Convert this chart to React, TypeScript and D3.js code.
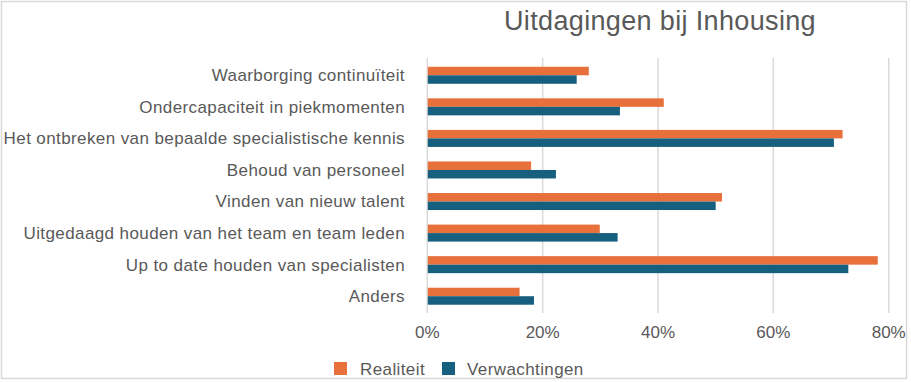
import React from "react";
import * as d3 from "d3";

const categories = [
  "Waarborging continuïteit",
  "Ondercapaciteit in piekmomenten",
  "Het ontbreken van bepaalde specialistische kennis",
  "Behoud van personeel",
  "Vinden van nieuw talent",
  "Uitgedaagd houden van het team en team leden",
  "Up to date houden van specialisten",
  "Anders",
];
const realiteit = [0.28, 0.41, 0.72, 0.18, 0.511, 0.299, 0.781, 0.16];
const verwachtingen = [0.259, 0.334, 0.705, 0.223, 0.5, 0.33, 0.73, 0.185];
const ticks = [0, 0.2, 0.4, 0.6, 0.8];
const seriesNames = ["Realiteit", "Verwachtingen"];
const colors = ["#E8703A", "#175F7E"];

export default function App() {
  const W = 911, H = 382;
  const x = d3.scaleLinear().domain([0, 0.8]).range([427.3, 888.7]);
  const y = d3.scaleBand<string>().domain(categories).range([59.5, 312]).paddingInner(0).paddingOuter(0);
  const barH = 8.5;
  const font = "'Liberation Sans', Arial, Helvetica, sans-serif";
  const textColor = "#595959";
  const series = [realiteit, verwachtingen];
  return (
    <svg width={W} height={H} style={{ position: "absolute", left: 0, top: 0 }} fontFamily={font}>
      <rect x={0} y={0} width={W} height={H} fill="#fff" />
      <rect x={1.5} y={1.5} width={905} height={377} fill="none" stroke="#d9d9d9" strokeWidth={1.5} />
      <text x={660} y={30} textAnchor="middle" fontSize={27} letterSpacing={0.35} fill={textColor}>Uitdagingen bij Inhousing</text>
      {ticks.map((t) => (
        <line key={t} x1={x(t)} x2={x(t)} y1={58} y2={313} stroke="#d9d9d9" strokeWidth={1.5} />
      ))}
      {categories.map((c, i) => {
        const cy = (y(c) as number) + y.bandwidth() / 2;
        return (
          <g key={c}>
            {series.map((s, k) => (
              <rect key={k} x={x(0) + 0.5} y={cy - barH + k * barH} width={x(s[i]) - x(0) - 0.5} height={barH} fill={colors[k]} />
            ))}
            <text x={405} y={cy} dy="0.35em" textAnchor="end" fontSize={17} letterSpacing={0.4} fill={textColor}>{c}</text>
          </g>
        );
      })}
      {ticks.map((t) => (
        <text key={t} x={x(t)} y={338} textAnchor="middle" fontSize={17} fill={textColor}>{d3.format(".0%")(t)}</text>
      ))}
      <g>
        <rect x={334} y={362} width={13} height={13} fill={colors[0]} />
        <text x={360} y={375} fontSize={17} letterSpacing={0.4} fill={textColor}>{seriesNames[0]}</text>
        <rect x={442} y={362} width={13} height={13} fill={colors[1]} />
        <text x={467} y={375} fontSize={17} letterSpacing={0.4} fill={textColor}>{seriesNames[1]}</text>
      </g>
    </svg>
  );
}
